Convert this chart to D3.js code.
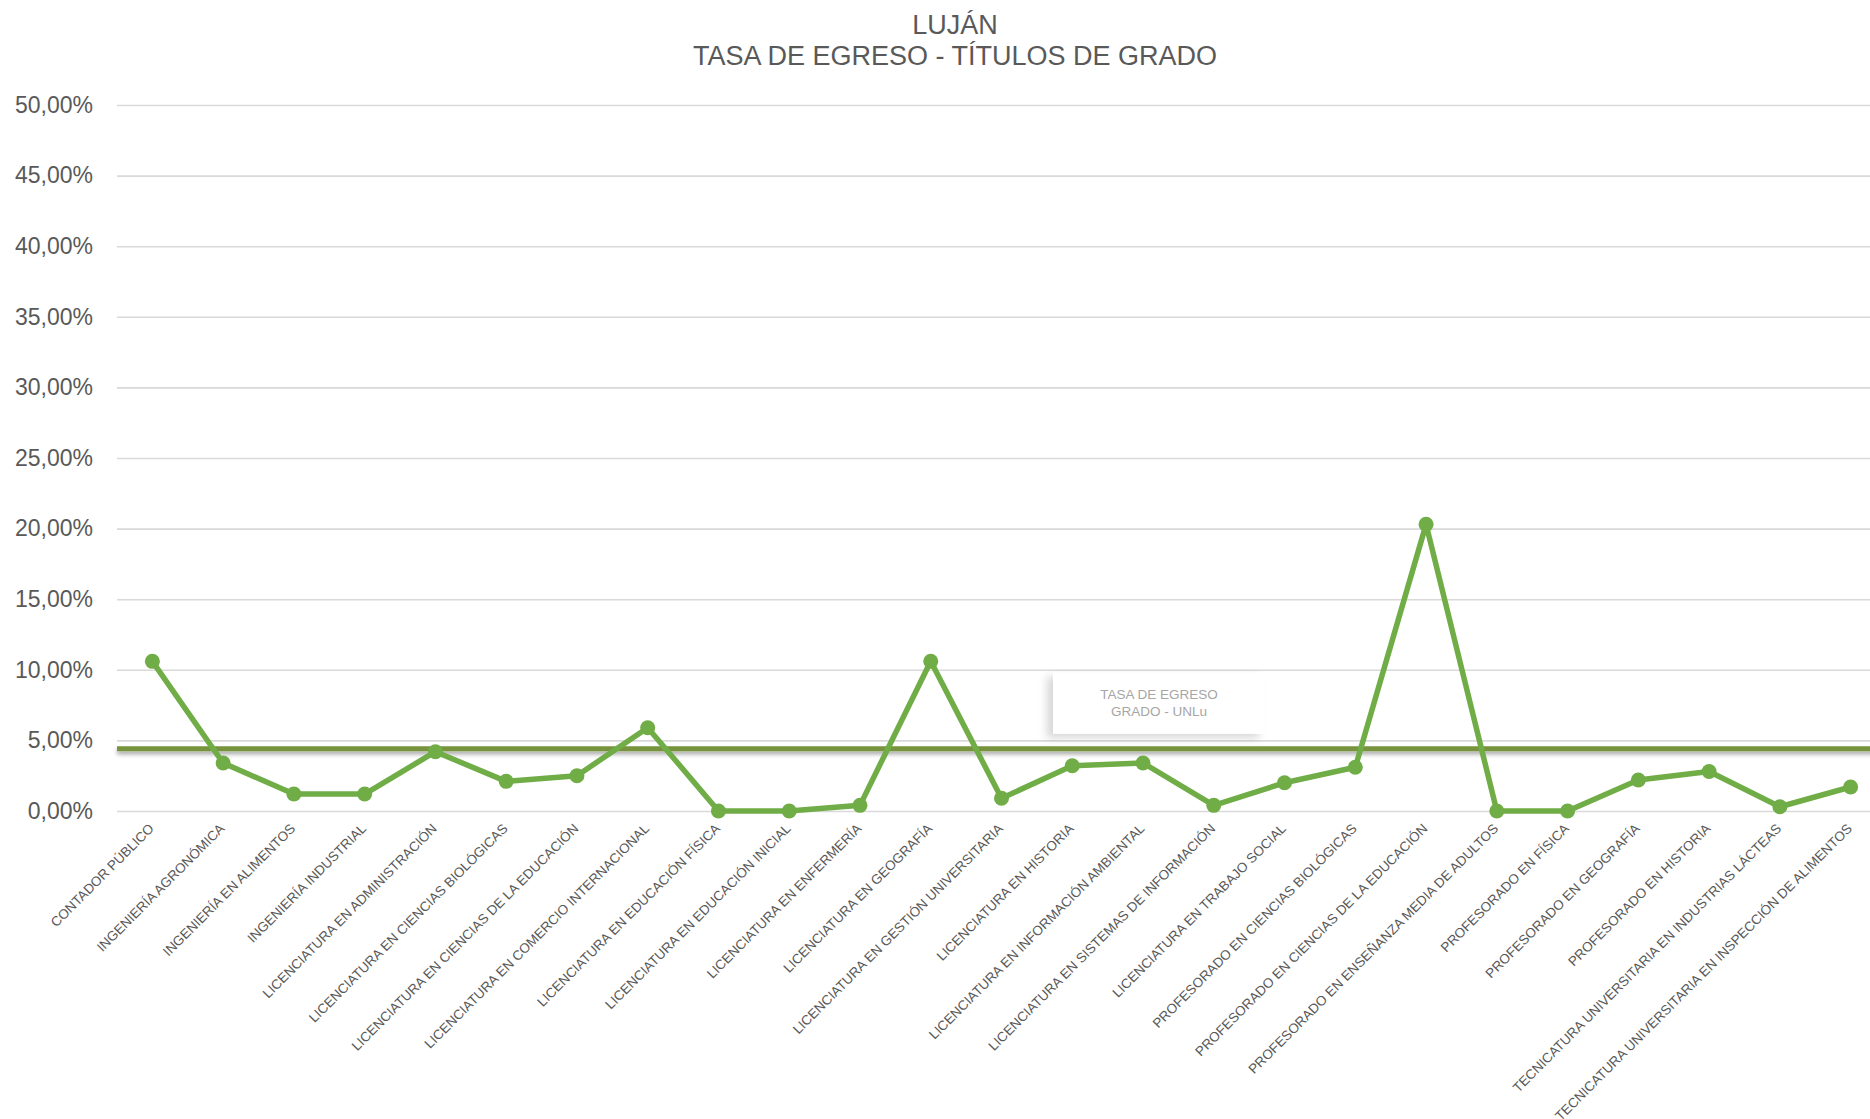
<!DOCTYPE html>
<html>
<head>
<meta charset="utf-8">
<script src="https://cdn.jsdelivr.net/npm/d3@7"></script>
<style>
  body { margin: 0; background: #fff; }
  svg { display: block; }
</style>
</head>
<body>
<div id="chart"></div>
<script>
// carreras (eje x)
var carreras = [
    "CONTADOR PÚBLICO",
    "INGENIERÍA AGRONÓMICA",
    "INGENIERÍA EN ALIMENTOS",
    "INGENIERÍA INDUSTRIAL",
    "LICENCIATURA EN ADMINISTRACIÓN",
    "LICENCIATURA EN CIENCIAS BIOLÓGICAS",
    "LICENCIATURA EN CIENCIAS DE LA EDUCACIÓN",
    "LICENCIATURA EN COMERCIO INTERNACIONAL",
    "LICENCIATURA EN EDUCACIÓN FÍSICA",
    "LICENCIATURA EN EDUCACIÓN INICIAL",
    "LICENCIATURA EN ENFERMERÍA",
    "LICENCIATURA EN GEOGRAFÍA",
    "LICENCIATURA EN GESTIÓN UNIVERSITARIA",
    "LICENCIATURA EN HISTORIA",
    "LICENCIATURA EN INFORMACIÓN AMBIENTAL",
    "LICENCIATURA EN SISTEMAS DE INFORMACIÓN",
    "LICENCIATURA EN TRABAJO SOCIAL",
    "PROFESORADO EN CIENCIAS BIOLÓGICAS",
    "PROFESORADO EN CIENCIAS DE LA EDUCACIÓN",
    "PROFESORADO EN ENSEÑANZA MEDIA DE ADULTOS",
    "PROFESORADO EN FÍSICA",
    "PROFESORADO EN GEOGRAFÍA",
    "PROFESORADO EN HISTORIA",
    "TECNICATURA UNIVERSITARIA EN INDUSTRIAS LÁCTEAS",
    "TECNICATURA UNIVERSITARIA EN INSPECCIÓN DE ALIMENTOS"
];

// tasa de egreso por carrera (Luján)
var tasaLujan = [
    0.106, 0.034, 0.012, 0.012, 0.042, 0.021, 0.025, 0.059, 0.000, 0.000,
    0.004, 0.106, 0.009, 0.032, 0.034, 0.004, 0.020, 0.031, 0.203, 0.000,
    0.000, 0.022, 0.028, 0.003, 0.017
];

// promedio UNLu
var tasaUNLu = 0.044;
var etiquetaUNLu = ["TASA DE EGRESO", "GRADO - UNLu"];

var yTicks = [0, 0.05, 0.10, 0.15, 0.20, 0.25, 0.30, 0.35, 0.40, 0.45, 0.50];
var titulo = ["LUJÁN", "TASA DE EGRESO - TÍTULOS DE GRADO"];

var W = 1870, H = 1119;
var mLeft = 117, mRight = 1886, mTop = 105, mBottom = 811;

var svg = d3.select("#chart").append("svg")
    .attr("width", W)
    .attr("height", H);

// sombras (en coordenadas del usuario para que la linea no desaparezca)
var defs = svg.append("defs");
defs.append("filter").attr("id", "sombraLinea")
    .attr("filterUnits", "userSpaceOnUse")
    .attr("x", 0).attr("y", 0).attr("width", W).attr("height", H)
    .append("feDropShadow")
    .attr("dx", 0).attr("dy", 3).attr("stdDeviation", 2.2)
    .attr("flood-color", "#000").attr("flood-opacity", 0.35);
defs.append("filter").attr("id", "sombraCaja")
    .attr("filterUnits", "userSpaceOnUse")
    .attr("x", 0).attr("y", 0).attr("width", W).attr("height", H)
    .append("feDropShadow")
    .attr("dx", -6).attr("dy", 4).attr("stdDeviation", 4)
    .attr("flood-color", "#000").attr("flood-opacity", 0.16);

var x = d3.scalePoint()
    .domain(carreras)
    .range([mLeft, mRight])
    .padding(0.5);

var y = d3.scaleLinear()
    .domain([0, 0.5])
    .range([mBottom, mTop]);

var fmt = function(d) { return d3.format(".2f")(d * 100).replace(".", ",") + "%"; };

// grilla y etiquetas del eje y
var yAxis = svg.append("g")
    .attr("class", "y-axis")
    .attr("transform", "translate(" + mLeft + ",0)")
    .call(d3.axisLeft(y).tickValues(yTicks).tickFormat(fmt)
          .tickSize(-(mRight - mLeft)).tickPadding(24));
yAxis.select(".domain").remove();
yAxis.selectAll(".tick line")
    .attr("stroke", "#d9d9d9")
    .attr("stroke-width", 1.6);
yAxis.selectAll(".tick text")
    .attr("fill", "#595959")
    .attr("font-family", "'Liberation Sans Narrow', 'Liberation Sans', Arial, sans-serif")
    .attr("font-size", "23px");

// etiquetas del eje x
var xAxis = svg.append("g").attr("class", "x-axis");
xAxis.selectAll("text")
    .data(carreras)
    .enter().append("text")
    .attr("transform", function(d) { return "translate(" + (x(d) - 1) + "," + (mBottom + 15) + ") rotate(-45)"; })
    .attr("text-anchor", "end")
    .attr("dy", "0.35em")
    .attr("font-family", "'Liberation Sans', Arial, sans-serif")
    .attr("font-size", "13.5px")
    .attr("fill", "#595959")
    .text(function(d) { return d; });

// caja con la etiqueta del promedio
var cx = (x(carreras[13]) + x(carreras[15])) / 2 + 16;
var caja = svg.append("g").attr("class", "etiqueta");
caja.append("rect")
    .attr("x", cx - 106)
    .attr("y", y(0.1) + 3)
    .attr("width", 212)
    .attr("height", 61)
    .attr("fill", "#fff")
    .attr("filter", "url(#sombraCaja)");
caja.selectAll("text")
    .data(etiquetaUNLu)
    .enter().append("text")
    .attr("x", cx)
    .attr("y", function(d, i) { return y(0.1) + 29 + i * 17; })
    .attr("text-anchor", "middle")
    .attr("font-family", "'Liberation Sans', Arial, sans-serif")
    .attr("font-size", "13.5px")
    .attr("fill", "#a6a6a6")
    .text(function(d) { return d; });

// linea promedio UNLu
svg.append("line")
    .attr("x1", mLeft)
    .attr("x2", mRight)
    .attr("y1", y(tasaUNLu))
    .attr("y2", y(tasaUNLu))
    .attr("stroke", "#77933c")
    .attr("stroke-width", 5)
    .attr("filter", "url(#sombraLinea)");

// serie Luján
var line = d3.line()
    .x(function(d, i) { return x(carreras[i]); })
    .y(function(d) { return y(d); });

svg.append("path")
    .datum(tasaLujan)
    .attr("d", line)
    .attr("fill", "none")
    .attr("stroke", "#70ad47")
    .attr("stroke-width", 5.5)
    .attr("stroke-linejoin", "round");

svg.append("g")
    .selectAll("circle")
    .data(tasaLujan)
    .enter().append("circle")
    .attr("cx", function(d, i) { return x(carreras[i]); })
    .attr("cy", function(d) { return y(d); })
    .attr("r", 7.5)
    .attr("fill", "#70ad47");

// titulo
svg.append("g")
    .selectAll("text")
    .data(titulo)
    .enter().append("text")
    .attr("x", 955)
    .attr("y", function(d, i) { return 34 + i * 31; })
    .attr("text-anchor", "middle")
    .attr("font-family", "'Liberation Sans', Arial, sans-serif")
    .attr("font-size", "27px")
    .attr("fill", "#595959")
    .text(function(d) { return d; });
</script>
</body>
</html>
